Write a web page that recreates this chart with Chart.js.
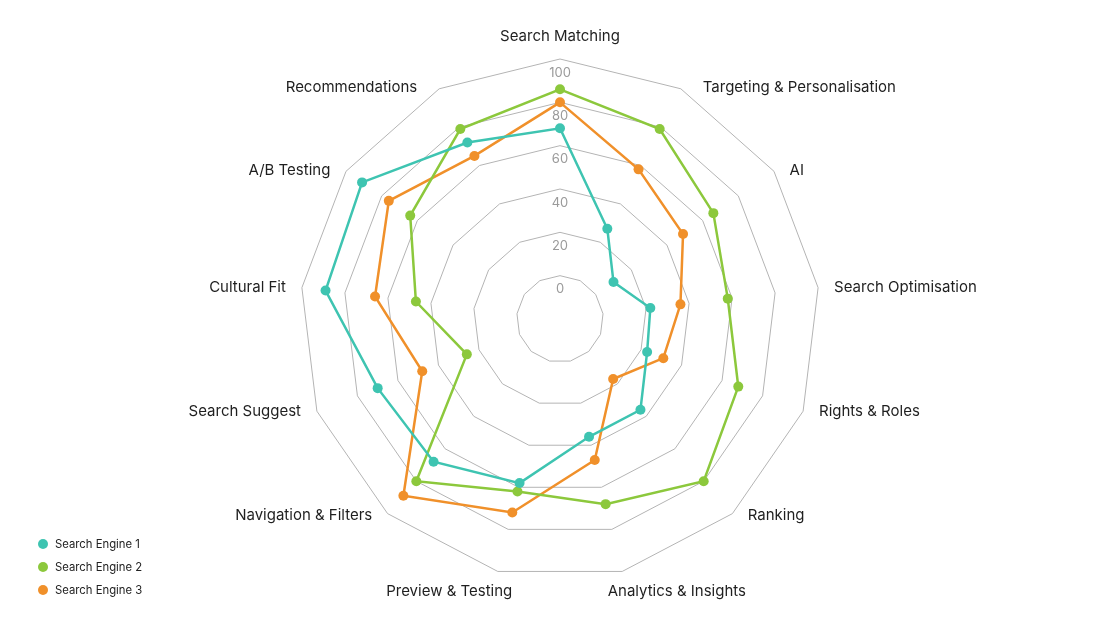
<!DOCTYPE html>
<html>
<head>
<meta charset="utf-8">
<script src="https://cdn.jsdelivr.net/npm/chart.js@4.4.1/dist/chart.umd.min.js"></script>
<style>
  html, body { margin:0; padding:0; background:#fff; }
  #wrap { position:relative; width:1120px; height:630px; }
  #legend { position:absolute; left:38px; top:532px; font:11.3px Inter, sans-serif; color:#222; }
  #legend div { display:flex; align-items:center; height:23px; }
  #legend span.dot { width:10px; height:10px; border-radius:50%; margin-right:7px; display:inline-block; }
</style>
</head>
<body>
<div id="wrap">
  <canvas id="c" width="1120" height="630"></canvas>
  <div id="legend"></div>
</div>
<script>
// axes of the radar, clockwise from the top
const AXES = [
  'Search Matching', 'Targeting & Personalisation', 'AI', 'Search Optimisation',
  'Rights & Roles', 'Ranking', 'Analytics & Insights', 'Preview & Testing',
  'Navigation & Filters', 'Search Suggest', 'Cultural Fit', 'A/B Testing', 'Recommendations'
];
const ENGINE_1 = [68, 27, 10, 22, 23, 36, 36, 58, 68, 70, 89, 91, 72];
const ENGINE_2 = [86, 79, 66, 58, 68, 80, 68, 62, 80, 26, 47, 64, 79];
const ENGINE_3 = [80, 58, 49, 36, 31, 17, 47, 72, 89, 48, 66, 76, 65];
const SERIES   = ['Search Engine 1', 'Search Engine 2', 'Search Engine 3'];
const TICKS    = [0, 20, 40, 60, 80, 100];

const C = {
  teal:   '#3ec4b1',
  green:  '#8cc83c',
  orange: '#f0902a',
  grid:   '#b4b4b4',
  tick:   '#9a9a9a',
  text:   '#1f1f1f',
};
const colors = [C.teal, C.green, C.orange];

function ds(label, data, color) {
  return {
    label, data, borderColor: color, backgroundColor: color,
    borderWidth: 2.5, fill: false, pointRadius: 5, pointHoverRadius: 5,
    pointBorderWidth: 0, pointBackgroundColor: color,
  };
}

// axis names, placed beside the outer ring
const axisNames = {
  id: 'axisNames',
  afterDraw(chart) {
    const r = chart.scales.r, ctx = chart.ctx;
    ctx.save();
    ctx.font = '15px Inter';
    ctx.fillStyle = C.text;
    ctx.textBaseline = 'middle';
    AXES.forEach((name, i) => {
      const p  = r.getPointPosition(i, r.drawingArea + 2);
      const dx = Math.cos(p.angle), dy = Math.sin(p.angle);
      let x = p.x, y = p.y, align = 'center';
      if (Math.abs(dx) < 0.01) {
        y += dy * 21;
      } else if (Math.abs(dx) < 0.3) {
        align = dx > 0 ? 'left' : 'right';
        x -= Math.sign(dx) * 15;
        y += dy * 19;
      } else {
        align = dx > 0 ? 'left' : 'right';
        x += Math.sign(dx) * (Math.abs(dx) < 0.5 ? 21 : 14);
      }
      ctx.textAlign = align;
      ctx.fillText(name, x, y);
    });
    ctx.restore();
  }
};

new Chart(document.getElementById('c'), {
  type: 'radar',
  data: {
    labels: AXES,
    datasets: [
      ds(SERIES[0], ENGINE_1, C.teal),
      ds(SERIES[1], ENGINE_2, C.green),
      ds(SERIES[2], ENGINE_3, C.orange),
    ],
  },
  options: {
    responsive: false, animation: false,
    layout: { padding: { top: 51, bottom: 42, left: 0, right: 0 } },
    plugins: { legend: { display: false }, tooltip: { enabled: false } },
    scales: {
      r: {
        min: -20, max: 100,
        angleLines: { display: false },
        grid: { color: C.grid, lineWidth: 1 },
        pointLabels: { display: false },
        ticks: {
          stepSize: 20, color: C.tick, showLabelBackdrop: false,
          font: { family: 'Inter', size: 13, lineHeight: 1.05 },
          // label sits just below its ring
          callback: v => TICKS.includes(v) ? ['', String(v)] : '',
        },
      },
    },
  },
  plugins: [axisNames],
});

document.getElementById('legend').innerHTML = SERIES.map((s, i) =>
  `<div><span class="dot" style="background:${colors[i]}"></span>${s}</div>`).join('');
</script>
</body>
</html>
